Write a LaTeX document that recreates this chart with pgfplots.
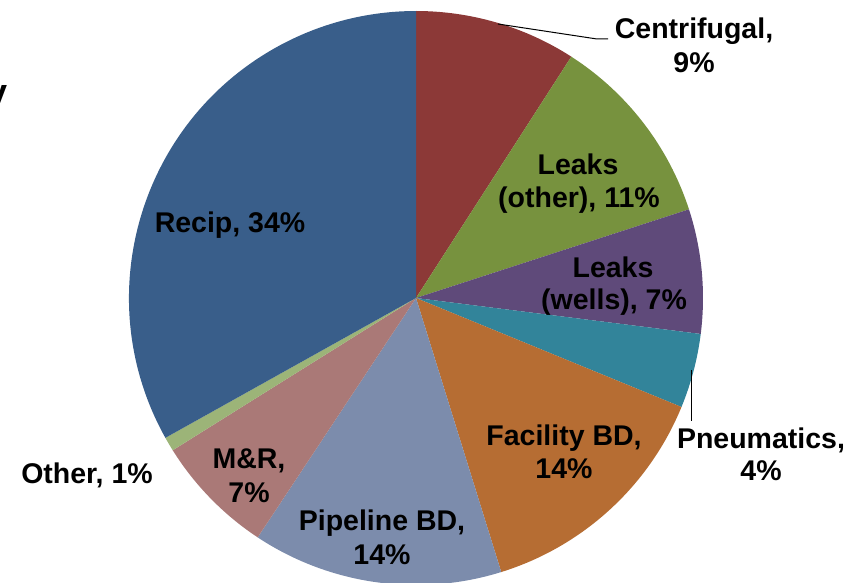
\documentclass[border=0pt]{standalone}
\usepackage{pgfplots}
\pgfplotsset{compat=1.18}
\usepackage{fontspec}
\setmainfont{Liberation Sans}

\definecolor{cCen}{RGB}{140,57,55}
\definecolor{cLkO}{RGB}{119,146,62}
\definecolor{cLkW}{RGB}{95,74,122}
\definecolor{cPne}{RGB}{50,132,154}
\definecolor{cFac}{RGB}{182,109,51}
\definecolor{cPip}{RGB}{124,140,172}
\definecolor{cMR}{RGB}{170,121,119}
\definecolor{cOth}{RGB}{156,180,120}
\definecolor{cRec}{RGB}{57,94,138}

% share of each slice (percent), clockwise from 12 o'clock
\def\piedata{9.1/cCen, 10.9/cLkO, 7.0/cLkW, 4.2/cPne, 14.0/cFac, 14.1/cPip, 6.8/cMR, 0.8/cOth, 33.1/cRec}

\tikzset{lbl/.style={font=\fontsize{28.5}{33}\selectfont\bfseries, anchor=base, inner sep=0pt}}

\begin{document}
\begin{tikzpicture}
\useasboundingbox (0,0) rectangle (848pt,582pt);
\begin{axis}[
    at={(0,0)}, anchor=south west,
    x=1pt, y=1pt,
    xmin=0, xmax=848, ymin=0, ymax=582,
    hide axis, clip=false,
]
    % slices
    \gdef\cum{0}
    \foreach \v/\c in \piedata {
        \pgfmathsetmacro\a{90-3.6*\cum}
        \pgfmathsetmacro\b{90-3.6*(\cum+\v)}
        \edef\temp{\noexpand\fill[\c] (axis cs:416,284) -- ++(\a:287pt)
            arc[start angle=\a, end angle=\b, radius=287pt] -- cycle;}
        \temp
        \pgfmathsetmacro\cumnew{\cum+\v}
        \global\let\cum\cumnew
    }

    % leader lines
    \draw[black, line width=1pt] (axis cs:498,558) -- (axis cs:597,543) -- (axis cs:608,543);
    \draw[black, line width=1pt] (axis cs:691,212) -- (axis cs:691,161);

    % labels
    \node[lbl] at (axis cs:694,543) {Centrifugal,};
    \node[lbl] at (axis cs:694,509) {9\%};
    \node[lbl] at (axis cs:578,407) {Leaks};
    \node[lbl] at (axis cs:579,374) {(other), 11\%};
    \node[lbl] at (axis cs:613,305) {Leaks};
    \node[lbl] at (axis cs:614,273) {(wells), 7\%};
    \node[lbl] at (axis cs:761,134) {Pneumatics,};
    \node[lbl] at (axis cs:761,102) {4\%};
    \node[lbl] at (axis cs:564,137) {Facility BD,};
    \node[lbl] at (axis cs:564,104) {14\%};
    \node[lbl] at (axis cs:382,52) {Pipeline BD,};
    \node[lbl] at (axis cs:382,18) {14\%};
    \node[lbl] at (axis cs:249,114) {M\&R,};
    \node[lbl] at (axis cs:249,80) {7\%};
    \node[lbl] at (axis cs:87,99) {Other, 1\%};
    \node[lbl] at (axis cs:230,350) {Recip, 34\%};
    % clipped remnant of a title at the left edge
    \node[font=\fontsize{36}{40}\selectfont\bfseries, anchor=base east, inner sep=0pt]
        at (axis cs:8,477) {y};
\end{axis}
\end{tikzpicture}
\end{document}
